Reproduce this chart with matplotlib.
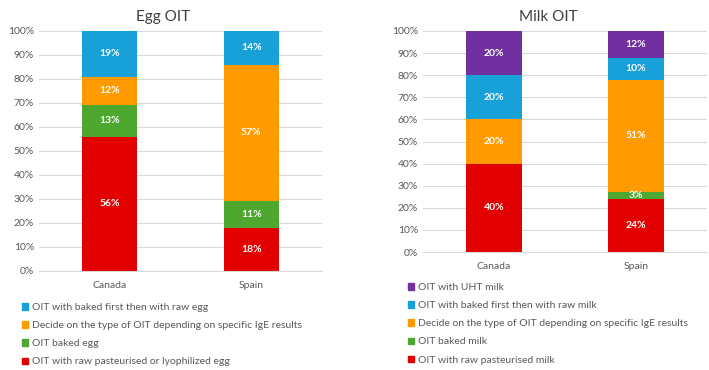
import numpy as np
import matplotlib.pyplot as plt
from matplotlib.patches import Patch

plt.rcParams['font.family'] = ['Lato', 'DejaVu Sans']

countries = ["Canada", "Spain"]

# egg OIT shares (%), bottom to top
egg_labels = ["OIT with raw pasteurised or lyophilized egg",
              "OIT baked egg",
              "Decide on the type of OIT depending on specific IgE results",
              "OIT with baked first then with raw egg"]
egg_raw = [56, 18]
egg_baked = [13, 11]
egg_decide = [12, 57]
egg_baked_raw = [19, 14]

# milk OIT shares (%), bottom to top
milk_labels = ["OIT with raw pasteurised milk",
               "OIT baked milk",
               "Decide on the type of OIT depending on specific IgE results",
               "OIT with baked first then with raw milk",
               "OIT with UHT milk"]
milk_raw = [40, 24]
milk_baked = [0, 3]
milk_decide = [20, 51]
milk_baked_raw = [20, 10]
milk_uht = [20, 12]

red = "#E20000"
green = "#4EA72E"
orange = "#FF9A00"
blue = "#18A0D8"
purple = "#7030A0"
gray = "#595959"

W, H = 709, 370
fig = plt.figure(figsize=(W / 100, H / 100), dpi=100)


def px_axes(x0, y0, x1, y1):
    return fig.add_axes([x0 / W, 1 - y1 / H, (x1 - x0) / W, (y1 - y0) / H])


def stacked(ax, series, colors, title):
    x = np.arange(len(countries))
    bottom = np.zeros(len(countries))
    for vals, c in zip(series, colors):
        vals = np.array(vals, dtype=float)
        ax.bar(x, vals, 0.39, bottom=bottom, color=c, zorder=2)
        for xi, v, b in zip(x, vals, bottom):
            if v > 0:
                ax.text(xi, b + v / 2, f"{int(v)}%", ha="center", va="center",
                        color="white", fontsize=7.5, fontweight="bold", zorder=3)
        bottom += vals
    ax.set_xlim(-0.5, 1.5)
    ax.set_ylim(0, 100)
    ax.set_yticks(range(0, 101, 10))
    ax.set_yticklabels([f"{t}%" for t in range(0, 101, 10)])
    ax.set_xticks(x)
    ax.set_xticklabels(countries)
    ax.tick_params(length=0, colors=gray, labelsize=7.5)
    ax.tick_params(axis="x", pad=7)
    ax.grid(axis="y", color="#D9D9D9", lw=0.8, zorder=0)
    for s in ["top", "right", "left"]:
        ax.spines[s].set_visible(False)
    ax.spines["bottom"].set_color("#D9D9D9")
    ax.set_title(title, fontsize=11, color="#404040", pad=7, x=0.44)


ax1 = px_axes(39, 31, 322, 271)
stacked(ax1, [egg_raw, egg_baked, egg_decide, egg_baked_raw],
        [red, green, orange, blue], "Egg OIT")

ax2 = px_axes(423, 31, 707, 252)
stacked(ax2, [milk_raw, milk_baked, milk_decide, milk_baked_raw, milk_uht],
        [red, green, orange, blue, purple], "Milk OIT")

egg_handles = [Patch(color=c, label=l) for c, l in
               zip([blue, orange, green, red], egg_labels[::-1])]
milk_handles = [Patch(color=c, label=l) for c, l in
                zip([purple, blue, orange, green, red], milk_labels[::-1])]

leg_kw = dict(loc="upper left", frameon=False, fontsize=7.5,
              handlelength=0.6, handleheight=0.6, handletextpad=0.4,
              labelspacing=0.88, borderpad=0, borderaxespad=0,
              labelcolor=gray)
fig.legend(handles=egg_handles, bbox_to_anchor=(22 / W, 1 - 303 / H), **leg_kw)
fig.legend(handles=milk_handles, bbox_to_anchor=(408 / W, 1 - 283 / H), **leg_kw)

fig.savefig("out.png", dpi=100)
